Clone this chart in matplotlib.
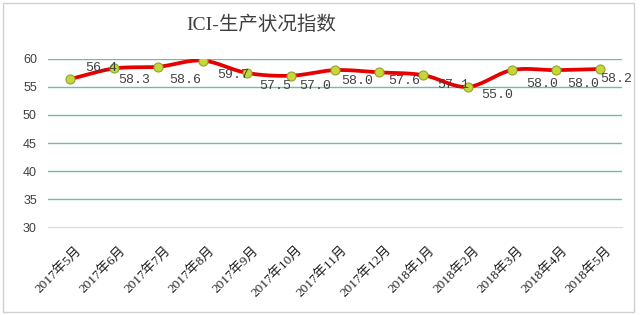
import numpy as np
import matplotlib.pyplot as plt
from matplotlib.patches import Rectangle

# data
months = ["2017年5月", "2017年6月", "2017年7月", "2017年8月", "2017年9月",
          "2017年10月", "2017年11月", "2017年12月", "2018年1月", "2018年2月",
          "2018年3月", "2018年4月", "2018年5月"]
values = [56.4, 58.3, 58.6, 59.7, 57.5, 57.0, 58.0, 57.6, 57.1, 55.0, 58.0, 58.0, 58.2]

# label offsets (x in category units, y in value units)
label_dx = [0.70, 0.45, 0.60, 0.69, 0.64, 0.54, 0.49, 0.56, 0.67, 0.68, 0.68, 0.61, 0.37]
label_dy = [2.0, -2.0, -2.3, -2.5, -2.4, -1.9, -1.9, -1.5, -1.8, -1.5, -2.4, -2.4, -1.7]

serif_cjk = ['Liberation Serif', 'Noto Sans CJK SC']


def smooth(xs, ys, n=20):
    # catmull-rom style smoothing like the office "smoothed line"
    xs = np.asarray(xs, float)
    ys = np.asarray(ys, float)
    px = np.concatenate([[2 * xs[0] - xs[1]], xs, [2 * xs[-1] - xs[-2]]])
    py = np.concatenate([[2 * ys[0] - ys[1]], ys, [2 * ys[-1] - ys[-2]]])
    ox, oy = [], []
    t = np.linspace(0, 1, n)
    h00 = 2 * t**3 - 3 * t**2 + 1
    h10 = t**3 - 2 * t**2 + t
    h01 = -2 * t**3 + 3 * t**2
    h11 = t**3 - t**2
    for i in range(1, len(px) - 2):
        for arr, out in ((px, ox), (py, oy)):
            p0, p1, p2, p3 = arr[i - 1], arr[i], arr[i + 1], arr[i + 2]
            m1 = (p2 - p0) / 2
            m2 = (p3 - p1) / 2
            out.extend(h00 * p1 + h10 * m1 + h01 * p2 + h11 * m2)
    return np.array(ox), np.array(oy)


fig = plt.figure(figsize=(6.4, 3.15), dpi=100)
fig.patches.append(Rectangle((0.004, 0.01), 0.986, 0.98, transform=fig.transFigure,
                             fill=False, edgecolor="#d0d0d0", linewidth=1))
ax = fig.add_axes([0.075, 0.279, 0.897, 0.534])

x = np.arange(len(values))
sx, sy = smooth(x, values)
ax.plot(sx, sy, color="#e60000", linewidth=2.7, zorder=3, solid_capstyle="round")
ax.plot(x, values, linestyle="none", marker="o", markersize=6.5,
        markerfacecolor="#c8d63a", markeredgecolor="#8da52c", markeredgewidth=0.8, zorder=4)

for i, v in enumerate(values):
    ax.text(i + label_dx[i], v + label_dy[i], f"{v:.1f}", ha="center", va="center",
            fontsize=9.5, family=['Liberation Mono', 'DejaVu Sans Mono'], color="#404040", zorder=5)

ax.set_xlim(-0.5, len(values) - 0.5)
ax.set_ylim(30, 60)
ax.set_yticks(range(30, 61, 5))
ax.set_yticklabels([str(t) for t in range(30, 61, 5)], fontsize=9, color="#404040",
                   family=['Liberation Sans', 'DejaVu Sans'])
ax.set_xticks(x + 0.12)
ax.set_xticklabels(months, rotation=45, ha="right", rotation_mode="anchor",
                   fontsize=9.5, family=serif_cjk, color="#202020")
ax.tick_params(length=0, pad=8)
ax.tick_params(axis="x", pad=12)

for t in range(35, 61, 5):
    ax.axhline(t, color="#6cbfa3", linewidth=1, zorder=1)
for s in ["top", "right", "left"]:
    ax.spines[s].set_visible(False)
ax.spines["bottom"].set_color("#d9d9d9")

fig.text(0.408, 0.92, "ICI-生产状况指数", ha="center", va="center", fontsize=14,
         family=serif_cjk, color="#404040")

fig.savefig("out.png", dpi=100)
